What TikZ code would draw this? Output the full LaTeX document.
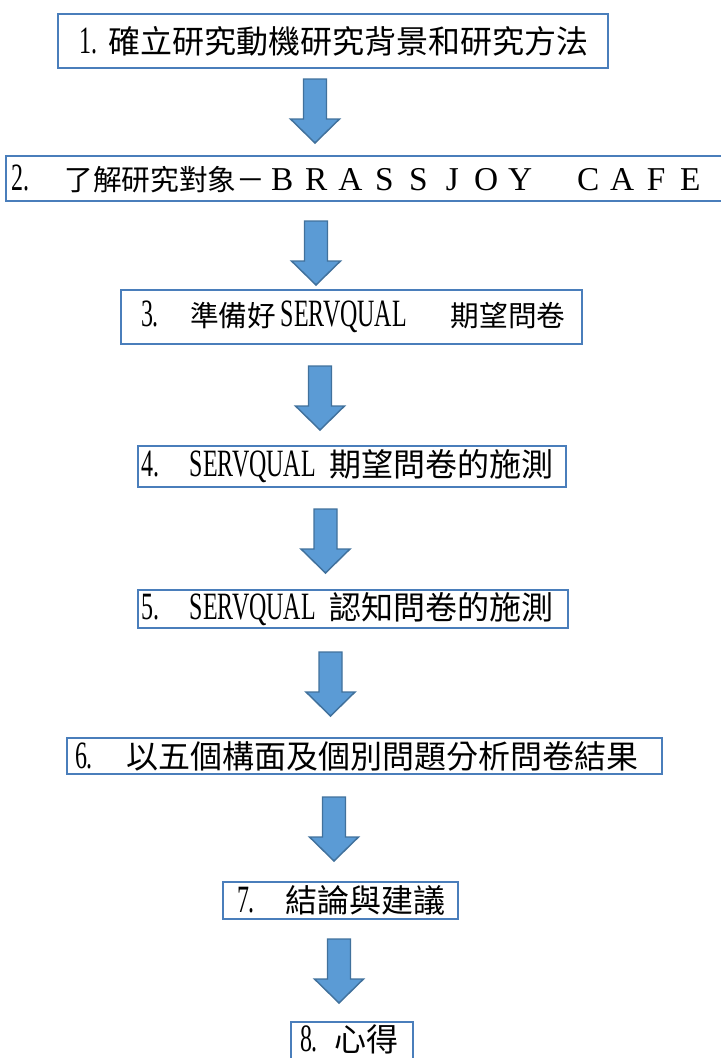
\documentclass[tikz,border=0pt]{standalone}
\usepackage{fontspec}
\setmainfont{Liberation Serif}
\newfontfamily\cjkfont{Noto Sans CJK TC}
\newfontfamily\narrowfont[FakeStretch=0.62]{Liberation Serif}
\definecolor{boxline}{HTML}{4A7EBB}
\definecolor{arrowfill}{HTML}{5B9BD5}
\definecolor{arrowline}{HTML}{41719C}
\newcommand\dgt[1]{{\narrowfont\fontsize{29pt}{29pt}\selectfont #1}}
\newcommand\zht[1]{{\cjkfont\fontsize{24pt}{24pt}\selectfont #1}}
\newcommand\zhs[1]{{\cjkfont\fontsize{21.5pt}{22pt}\selectfont #1}}
\newcommand\fwl[1]{\makebox[25.5pt][c]{\fontsize{25pt}{25pt}\selectfont #1}}
\tikzset{
  stepbox/.style={draw=boxline, line width=1.6pt, fill=white, inner sep=0pt, rectangle},
  openbox/.style={draw=boxline, line width=1.6pt},
  blockarrow/.style={draw=arrowline, line width=1.1pt, fill=arrowfill, line join=miter},
  pics/downarrow/.style={code={\draw[blockarrow] (-11.5,0) -- (11.5,0) -- (11.5,40) -- (24.5,40) -- (0,64) -- (-24.5,40) -- (-11.5,40) -- cycle;}}
}
\begin{document}
\begin{tikzpicture}[x=0.75pt,y=-0.75pt]
\clip (0,0) rectangle (721,1058);
\node[stepbox, minimum width=412.5pt, minimum height=40.5pt] (b1) at (333,41)
  {\makebox[412.5pt][l]{\hspace{16.5pt}\dgt{1.}\hspace{8pt}\zht{確立研究動機研究背景和研究方法}}};
\node[stepbox, minimum width=550.5pt, minimum height=33.75pt] (b2) at (373,178.5)
  {\makebox[550.5pt][l]{\hspace{4.5pt}\dgt{2.}\hspace{26pt}\zhs{了解研究對象－}\fwl{B}\fwl{R}\fwl{A}\fwl{S}\fwl{S}\fwl{J}\fwl{O}\fwl{Y}\fwl{}\fwl{C}\fwl{A}\fwl{F}\fwl{E}}};
\node[stepbox, minimum width=345.75pt, minimum height=40.5pt] (b3) at (351.5,317)
  {\makebox[345.75pt][l]{\hspace{15pt}\dgt{3.}\hspace{23.5pt}\zhs{準備好}\hspace{3.5pt}\dgt{SERVQUAL}\hspace{33pt}\zhs{期望問卷}}};
\node[stepbox, minimum width=321pt, minimum height=30.75pt] (b4) at (352,466.5)
  {\makebox[321pt][l]{\hspace{2.5pt}\dgt{4.}\hspace{23pt}\dgt{SERVQUAL}\hspace{10pt}\zht{期望問卷的施測}}};
\node[stepbox, minimum width=322.5pt, minimum height=28.5pt] (b5) at (353,609)
  {\makebox[322.5pt][l]{\hspace{2.5pt}\dgt{5.}\hspace{23pt}\dgt{SERVQUAL}\hspace{10pt}\zht{認知問卷的施測}}};
\node[stepbox, minimum width=446.25pt, minimum height=27pt] (b6) at (364.5,756)
  {\makebox[446.25pt][l]{\hspace{6pt}\dgt{6.}\hspace{25.5pt}\zht{以五個構面及個別問題分析問卷結果}}};
\node[stepbox, minimum width=176.25pt, minimum height=27.75pt] (b7) at (340.5,900.5)
  {\makebox[176.25pt][l]{\hspace{10.5pt}\dgt{7.}\hspace{23pt}\zht{結論與建議}}};
\node[inner sep=0pt, minimum width=91.5pt, minimum height=26.25pt] (b8) at (352,1039.5)
  {\makebox[91.5pt][l]{\hspace{6.75pt}\dgt{8.}\hspace{12.75pt}\zht{心得}}};
\draw[openbox] ([yshift=-3pt]b8.south west) |- (b8.north east) -- ([yshift=-3pt]b8.south east);
\pic (a1) at (315,79) {downarrow};
\pic (a2) at (316,221) {downarrow};
\pic (a3) at (320,366) {downarrow};
\pic (a4) at (325.5,509) {downarrow};
\pic (a5) at (330.5,652) {downarrow};
\pic (a6) at (334,797) {downarrow};
\pic (a7) at (339,939) {downarrow};
\end{tikzpicture}
\end{document}
